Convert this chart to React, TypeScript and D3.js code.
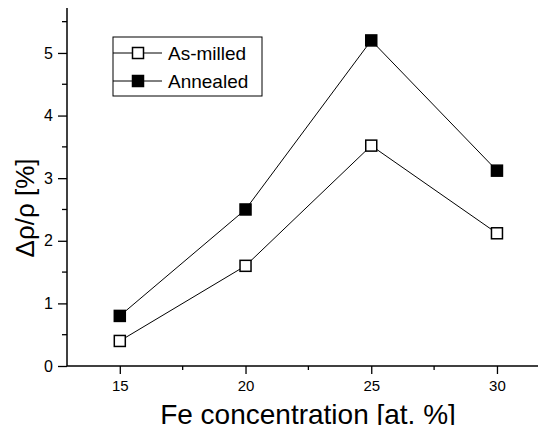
import React, { useEffect, useRef } from "react";
import * as d3 from "d3";

const concentrations = [15, 20, 25, 30];
const asMilled = [0.4, 1.6, 3.52, 2.12];
const annealed = [0.8, 2.5, 5.2, 3.12];
const xTicks = [15, 20, 25, 30];
const yTicks = [0, 1, 2, 3, 4, 5];

const Chart = () => {
  const ref = useRef(null);

  useEffect(() => {
    const svg = d3.select(ref.current);
    svg.selectAll("*").remove();

    const left = 67;
    const bottom = 366;
    const top = 6;
    const right = 546;

    const x = d3.scaleLinear().domain([12.9, 31.95]).range([left, right]);
    const y = d3.scaleLinear().domain([0, 5.75]).range([bottom, top]);

    const font = "Arial, 'Liberation Sans', sans-serif";

    // axes
    const xAxis = svg.append("g").attr("transform", `translate(0,${bottom})`);
    xAxis.call(
      d3.axisBottom(x).tickValues(xTicks).tickSize(8).tickPadding(6).tickFormat(d3.format("d")) as any
    );
    xAxis.select(".domain").attr("d", `M${left},0H${right}`).attr("stroke-width", 1.5);
    xAxis.selectAll("text").attr("font-size", 15).attr("font-family", font);
    xAxis.selectAll(".tick line").attr("stroke-width", 1.3);
    xAxis
      .selectAll(".minor")
      .data([17.5, 22.5, 27.5])
      .enter()
      .append("line")
      .attr("x1", (d) => x(d))
      .attr("x2", (d) => x(d))
      .attr("y1", 0)
      .attr("y2", 4)
      .attr("stroke", "#000")
      .attr("stroke-width", 1.3);

    const yAxis = svg.append("g").attr("transform", `translate(${left},0)`);
    yAxis.call(
      d3.axisLeft(y).tickValues(yTicks).tickSize(9).tickPadding(5).tickFormat(d3.format("d")) as any
    );
    yAxis.select(".domain").attr("d", `M0,${bottom}V${top}`).attr("stroke-width", 1.5);
    yAxis.selectAll("text").attr("font-size", 16).attr("font-family", font);
    yAxis.selectAll(".tick line").attr("stroke-width", 1.3);
    yAxis
      .selectAll(".minor")
      .data([0.5, 1.5, 2.5, 3.5, 4.5, 5.5])
      .enter()
      .append("line")
      .attr("y1", (d) => y(d))
      .attr("y2", (d) => y(d))
      .attr("x1", 0)
      .attr("x2", -5)
      .attr("stroke", "#000")
      .attr("stroke-width", 1.3);

    // series
    const line = d3
      .line<number>()
      .x((_, i) => x(concentrations[i]))
      .y((d) => y(d));

    const series = [
      { name: "As-milled", values: asMilled, fill: "#fff" },
      { name: "Annealed", values: annealed, fill: "#000" },
    ];
    const s = 11;

    series.forEach((ser) => {
      svg
        .append("path")
        .datum(ser.values)
        .attr("d", line)
        .attr("fill", "none")
        .attr("stroke", "#000")
        .attr("stroke-width", 1);
      svg
        .append("g")
        .selectAll("rect")
        .data(ser.values)
        .enter()
        .append("rect")
        .attr("x", (_, i) => x(concentrations[i]) - s / 2)
        .attr("y", (d) => y(d) - s / 2)
        .attr("width", s)
        .attr("height", s)
        .attr("fill", ser.fill)
        .attr("stroke", "#000")
        .attr("stroke-width", 1.5);
    });

    // legend
    const lg = svg.append("g").attr("transform", "translate(113,37)");
    lg.append("rect")
      .attr("width", 149)
      .attr("height", 59)
      .attr("fill", "#fff")
      .attr("stroke", "#000")
      .attr("stroke-width", 1);
    series.forEach((ser, i) => {
      const yy = 16 + i * 28;
      lg.append("line")
        .attr("x1", 0)
        .attr("x2", 49)
        .attr("y1", yy)
        .attr("y2", yy)
        .attr("stroke", "#000");
      lg.append("rect")
        .attr("x", 25 - s / 2)
        .attr("y", yy - s / 2)
        .attr("width", s)
        .attr("height", s)
        .attr("fill", ser.fill)
        .attr("stroke", "#000")
        .attr("stroke-width", 1.5);
      lg.append("text")
        .attr("x", 55)
        .attr("y", yy + 7)
        .attr("font-size", 19)
        .attr("font-family", font)
        .text(ser.name);
    });

    // titles
    svg
      .append("text")
      .attr("x", 308)
      .attr("y", 424)
      .attr("text-anchor", "middle")
      .attr("font-size", 28)
      .attr("font-family", font)
      .text("Fe concentration [at. %]");

    svg
      .append("text")
      .attr("transform", `translate(34,208) rotate(-90)`)
      .attr("text-anchor", "middle")
      .attr("font-size", 26)
      .attr("font-family", font)
      .text("Δρ/ρ [%]");
  }, []);

  return <svg ref={ref} width={546} height={433} style={{ display: "block" }} />;
};

export default function App() {
  return (
    <div style={{ margin: -8 }}>
      <Chart />
    </div>
  );
}
